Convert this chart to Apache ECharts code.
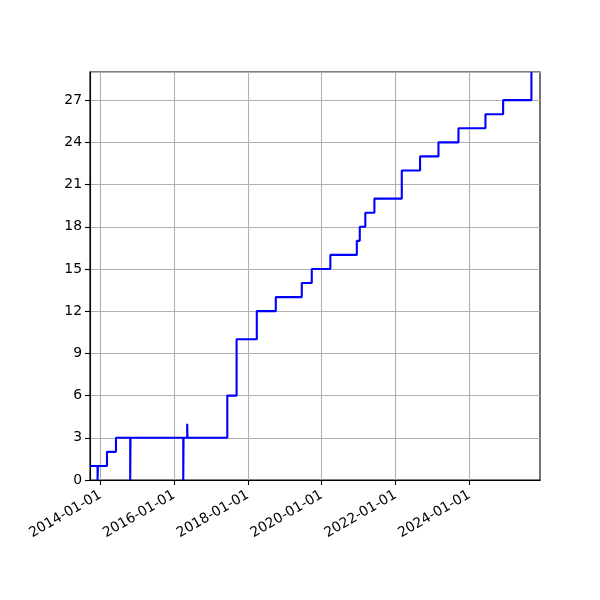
<!DOCTYPE html>
<html>
<head>
<meta charset="utf-8">
<script src="https://cdn.jsdelivr.net/npm/echarts@6/dist/echarts.min.js"></script>
<style>
html,body{margin:0;padding:0;background:#fff;}
#chart{width:600px;height:600px;}
</style>
</head>
<body>
<div id="chart"></div>
<script>
// step data, value holds until next date
var dates = ['2013-09-21','2013-12-05','2013-12-08','2014-03-08','2014-06-05','2014-10-24','2014-10-27',
	'2016-04-01','2016-04-04','2016-05-10','2016-05-13','2017-06-11','2017-09-11','2018-03-30',
	'2018-10-04','2019-06-18','2019-09-25','2020-03-27','2020-12-14','2021-01-12','2021-03-08',
	'2021-06-06','2022-03-04','2022-09-01','2023-03-02','2023-09-16','2024-06-09','2024-12-01','2025-09-07'];
var values = [1,0,1,2,3,0,3,0,3,4,3,6,10,12,13,14,15,16,17,18,19,20,22,23,24,25,26,27,29];
var tickLabels = ['2014-01-01','2016-01-01','2018-01-01','2020-01-01','2022-01-01','2024-01-01'];
var xMin = '2013-09-21', xMax = '2025-12-01';

var parse = echarts.time.parse;
var tickValues = tickLabels.map(function(d){ return +parse(d); });
var points = dates.map(function(d, i){ return [+parse(d), values[i]]; });

var gridColor = '#b0b0b0';
var option = {
	backgroundColor: '#fff',
	animation: false,
	grid: {
		left: 90, right: 60, top: 72, bottom: 120,
		show: true, borderColor: '#000', borderWidth: 1.1, backgroundColor: 'transparent'
	},
	xAxis: {
		type: 'value',
		min: +parse(xMin),
		max: +parse(xMax),
		axisLine: {lineStyle: {color: '#000', width: 1.1}},
		axisTick: {show: true, customValues: tickValues, length: 5, lineStyle: {color: '#000', width: 1.1}},
		axisLabel: {
			customValues: tickValues,
			rotate: 30,
			color: '#000',
			fontFamily: 'DejaVu Sans',
			fontSize: 13.9,
			margin: 14,
			formatter: function(v){
				var i = tickValues.indexOf(v);
				return i >= 0 ? tickLabels[i] : '';
			}
		},
		splitLine: {show: true, lineStyle: {color: gridColor, width: 1.1}}
	},
	yAxis: {
		type: 'value',
		min: 0,
		max: 29,
		interval: 3,
		axisLine: {show: true, lineStyle: {color: '#000', width: 1.1}},
		axisTick: {show: true, length: 5, lineStyle: {color: '#000', width: 1.1}},
		axisLabel: {color: '#000', fontFamily: 'DejaVu Sans', fontSize: 13.9, margin: 8,
			showMaxLabel: false},
		splitLine: {show: true, lineStyle: {color: gridColor, width: 1.1}}
	},
	series: [{
		type: 'line',
		step: 'end',
		data: points,
		showSymbol: false,
		symbol: 'none',
		lineStyle: {color: '#0000ff', width: 2.1},
		clip: true
	}]
};
echarts.init(document.getElementById('chart')).setOption(option);
</script>
</body>
</html>
